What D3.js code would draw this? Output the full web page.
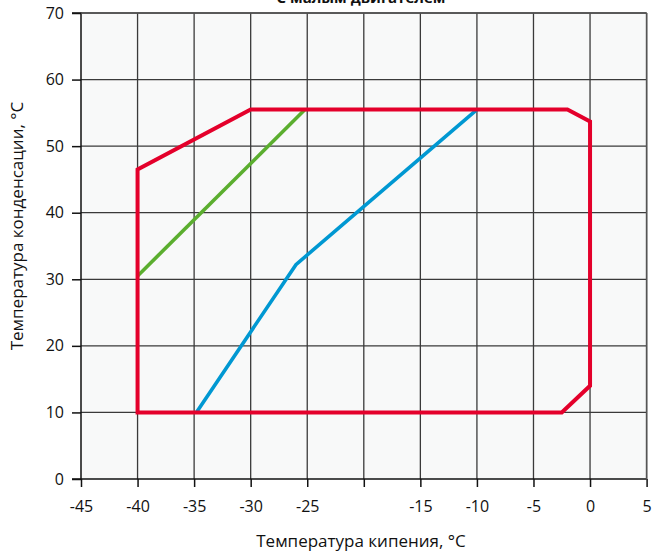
<!DOCTYPE html>
<html><head><meta charset="utf-8">
<script src="https://cdn.jsdelivr.net/npm/d3@7"></script>
<style>body{margin:0;background:#fff}svg{display:block}text{font-family:"Open Sans","Noto Sans",sans-serif}</style>
</head><body>
<script>
const title = "С малым двигателем";
const xLabel = "Температура кипения, °C";
const yLabel = "Температура конденсации, °C";
const xTicks = [-45,-40,-35,-30,-25,-20,-15,-10,-5,0,5];
const xTickLabels = ["-45","-40","-35","-30","-25","","-15","-10","-5","0","5"];
const yTicks = [0,10,20,30,40,50,60,70];
const redX = [-40,-40,-30,-2,0,0,-2.5,-40];
const redY = [10,46.5,55.5,55.5,53.7,14,10,10];
const greenX = [-40,-25.2];
const greenY = [30.5,55.5];
const blueX = [-34.8,-26,-10];
const blueY = [10,32.2,55.5];

const W=653,H=560;
const svg=d3.select("body").append("svg").attr("width",W).attr("height",H);
const x=d3.scaleLinear().domain([-45,5]).range([81,646.6]);
const y=d3.scaleLinear().domain([0,70]).range([479,13]);

svg.append("rect").attr("x",x(-45)).attr("y",y(70)).attr("width",x(5)-x(-45)).attr("height",y(0)-y(70)).attr("fill","#f8f9f9");

// grid
svg.append("g").selectAll("line").data(xTicks.slice(1)).join("line")
 .attr("x1",d=>x(d)).attr("x2",d=>x(d)).attr("y1",y(0)).attr("y2",y(70))
 .attr("stroke","#3a3a3a").attr("stroke-width",1.3);
svg.append("g").selectAll("line").data(yTicks.slice(1)).join("line")
 .attr("x1",x(-45)).attr("x2",x(5)).attr("y1",d=>y(d)).attr("y2",d=>y(d))
 .attr("stroke","#3a3a3a").attr("stroke-width",1.3);

// axes
const xa=svg.append("g").attr("transform",`translate(0,${y(0)})`)
 .call(d3.axisBottom(x).tickValues(xTicks).tickFormat((d,i)=>xTickLabels[i]).tickSize(8).tickPadding(14));
const ya=svg.append("g").attr("transform",`translate(${x(-45)},0)`)
 .call(d3.axisLeft(y).tickValues(yTicks).tickSize(9).tickPadding(8));
[xa,ya].forEach(a=>{
 a.select(".domain").attr("stroke","#111").attr("stroke-width",1.5);
 a.selectAll(".tick line").attr("stroke","#111").attr("stroke-width",1.5);
 a.selectAll("text").attr("font-size",16).attr("fill","#111").attr("font-family","'Open Sans','Noto Sans',sans-serif");
});
ya.select(".domain").attr("d",`M-9,${y(0)}H0V${y(70)}H-9`);
xa.select(".domain").attr("d",`M${x(-45)},0H${x(5)}`);
// top/right border
svg.append("line").attr("x1",x(-45)).attr("x2",x(5)).attr("y1",y(70)).attr("y2",y(70)).attr("stroke","#555").attr("stroke-width",1.5);
svg.append("line").attr("x1",x(5)).attr("x2",x(5)).attr("y1",y(70)).attr("y2",y(0)).attr("stroke","#555").attr("stroke-width",1.5);

const line=d3.line().x(d=>x(d[0])).y(d=>y(d[1]));
svg.append("path").datum(greenX.map((v,i)=>[v,greenY[i]])).attr("d",line)
 .attr("fill","none").attr("stroke","#5bae2f").attr("stroke-width",3.6);
svg.append("path").datum(blueX.map((v,i)=>[v,blueY[i]])).attr("d",line)
 .attr("fill","none").attr("stroke","#0098d2").attr("stroke-width",3.6);
svg.append("path").datum(redX.map((v,i)=>[v,redY[i]])).attr("d",d=>line(d)+"Z")
 .attr("fill","none").attr("stroke","#e4002b").attr("stroke-width",4).attr("stroke-linejoin","miter");

svg.append("text").attr("x",361).attr("y",3).attr("text-anchor","middle").attr("font-size",15).attr("font-weight","bold").attr("fill","#111").text(title);
svg.append("text").attr("x",361).attr("y",547).attr("text-anchor","middle").attr("font-size",17).attr("fill","#111").text(xLabel);
svg.append("text").attr("transform","translate(23,226) rotate(-90)").attr("text-anchor","middle").attr("font-size",17).attr("fill","#111").text(yLabel);
</script>
</body></html>
